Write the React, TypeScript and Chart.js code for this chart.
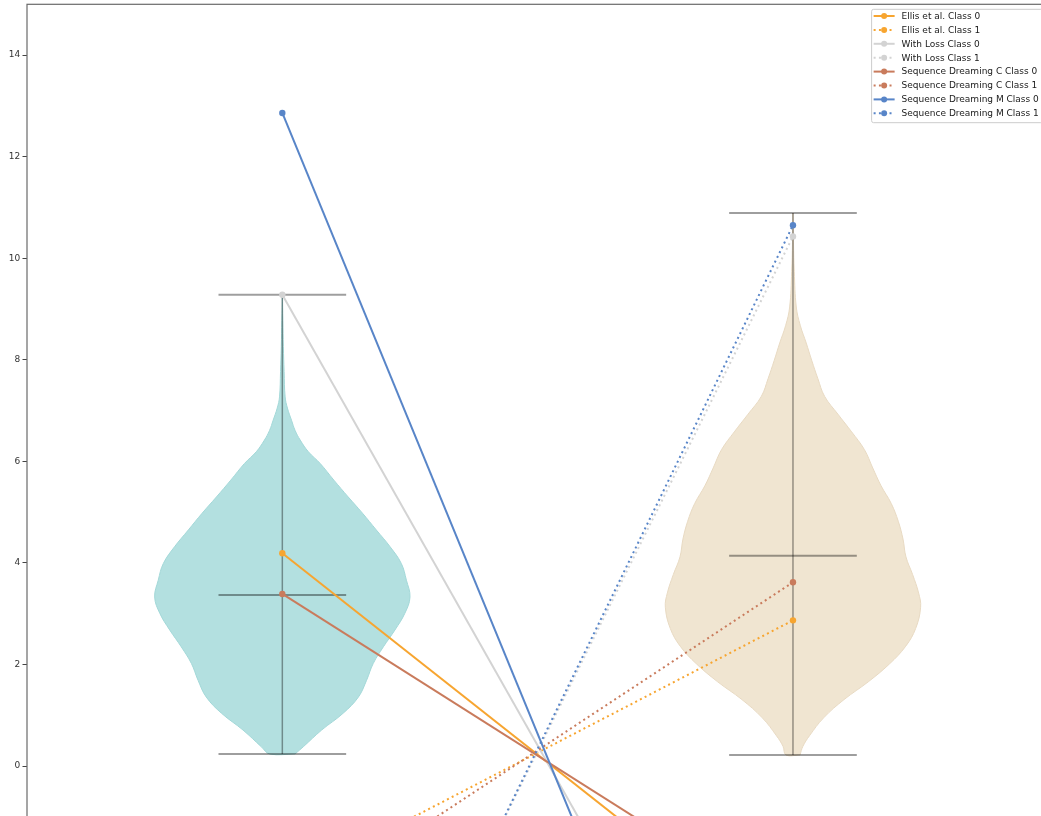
import React, { useEffect, useRef } from 'react';
import { Chart, registerables } from 'chart.js';

Chart.register(...registerables);

// ---------------- data ----------------
const violinPositions = [1, 2];

// left violin (Class 0 distribution): y values and relative density (1 = widest)
const violinAY = [0.24, 0.38, 0.71, 1.04, 1.36, 1.69, 2.02, 2.35, 2.68, 3.01, 3.33, 3.66, 3.99, 4.32, 4.65, 4.98, 5.3, 5.63, 5.96, 6.19, 6.42, 6.61, 6.81, 7.05, 7.27, 7.77, 8.26, 8.77, 9.28];
const violinADensity = [0.1, 0.164, 0.308, 0.476, 0.596, 0.66, 0.712, 0.792, 0.882, 0.96, 1.0, 0.972, 0.932, 0.844, 0.736, 0.628, 0.516, 0.404, 0.296, 0.204, 0.14, 0.1, 0.072, 0.04, 0.022, 0.014, 0.008, 0.004, 0.0];

// right violin (Class 1 distribution)
const violinBY = [0.22, 0.39, 0.6, 0.95, 1.31, 1.66, 2.01, 2.36, 2.71, 3.13, 3.41, 3.77, 4.12, 4.47, 4.82, 5.17, 5.52, 5.87, 6.23, 6.58, 6.93, 7.28, 7.63, 7.98, 8.33, 8.68, 9.04, 9.74, 10.3, 10.89];
const violinBDensity = [0.055, 0.078, 0.13, 0.24, 0.4, 0.59, 0.755, 0.883, 0.961, 1.0, 0.984, 0.9375, 0.885, 0.862, 0.825, 0.77, 0.69, 0.625, 0.56, 0.46, 0.352, 0.248, 0.195, 0.148, 0.104, 0.057, 0.026, 0.01, 0.004, 0.0];

const violinMins = [0.24, 0.22];
const violinMaxs = [9.28, 10.89];
const violinMeans = [3.37, 4.14];

const methodNames = ['Ellis et al.', 'With Loss', 'Sequence Dreaming C', 'Sequence Dreaming M'];
// Class 0 lines: value at x=1 and where the line heads at x=2
const class0AtLeft = [4.19, 9.28, 3.39, 12.86];
const class0AtRight = [-3.74, -8.47, -2.98, -11.59];
// Class 1 lines: where the line comes from at x=1 and value at x=2
const class1AtLeft = [-2.34, -9.84, -3.0, -9.97];
const class1AtRight = [2.87, 10.43, 3.62, 10.65];

const yTicks = [0, 2, 4, 6, 8, 10, 12, 14];

// ---------------- styles ----------------
const methodColors = ['#f7a530', '#d3d3d3', '#c97b5c', '#5885c8'];
const violinFills = ['#b3e0e0', '#f0e5d1'];
const violinEdges = ['#a3d8d8', '#e8dac3'];
const statColor = 'rgba(0,0,0,0.38)';
const VIOLIN_HALF = 0.25;
const STAT_HALF = 0.125;
const FONT = '"DejaVu Sans", "Liberation Sans", sans-serif';

const CW = 1100;
const CH = 880;

function outline(pos: number, ys: number[], dens: number[]) {
  const right = ys.map((y, i) => ({ x: pos + dens[i] * VIOLIN_HALF, y }));
  const left = ys.map((y, i) => ({ x: pos - dens[i] * VIOLIN_HALF, y })).reverse();
  return [...right, ...left, right[0]];
}

const framePlugin = {
  id: 'frameAndLegend',
  afterDraw(chart: any) {
    const ctx = chart.ctx;
    const a = chart.chartArea;
    ctx.save();
    ctx.strokeStyle = '#6a6a6a';
    ctx.lineWidth = 1.2;
    ctx.strokeRect(a.left, a.top, a.right - a.left, a.bottom - a.top);

    const items = chart.data.datasets.filter((d: any) => d.isMethod);
    ctx.font = '9px ' + FONT;
    const maxW = Math.max(...items.map((d: any) => ctx.measureText(d.label).width));
    const right = a.right - 5.5;
    const textX = right - 4 - maxW;
    const hEnd = textX - 7;
    const hStart = hEnd - 21;
    const left = hStart - 2;
    const top = a.top + 5;
    const rowH = 13.9;
    const firstY = top + 6.7;
    const bottom = firstY + rowH * (items.length - 1) + 9.4;
    ctx.beginPath();
    if (ctx.roundRect) ctx.roundRect(left, top, right - left, bottom - top, 2);
    else ctx.rect(left, top, right - left, bottom - top);
    ctx.fillStyle = 'rgba(255,255,255,0.85)';
    ctx.fill();
    ctx.strokeStyle = '#cccccc';
    ctx.lineWidth = 1;
    ctx.stroke();

    items.forEach((d: any, i: number) => {
      const y = firstY + i * rowH;
      ctx.save();
      ctx.strokeStyle = d.borderColor;
      ctx.lineWidth = 2;
      ctx.setLineDash(d.borderDash || []);
      ctx.beginPath();
      ctx.moveTo(hStart, y);
      ctx.lineTo(hEnd, y);
      ctx.stroke();
      ctx.restore();
      ctx.beginPath();
      ctx.fillStyle = d.borderColor;
      ctx.arc((hStart + hEnd) / 2, y, 3, 0, Math.PI * 2);
      ctx.fill();
      ctx.fillStyle = '#1a1a1a';
      ctx.textAlign = 'left';
      ctx.textBaseline = 'middle';
      ctx.fillText(d.label, textX, y + 0.5);
    });
    ctx.restore();
  },
};

export default function App() {
  const ref = useRef<HTMLCanvasElement | null>(null);

  useEffect(() => {
    if (!ref.current) return;
    const datasets: any[] = [];

    // violin bodies
    [ [violinAY, violinADensity], [violinBY, violinBDensity] ].forEach(([ys, dens], k) => {
      datasets.push({
        label: 'violin' + k,
        data: outline(violinPositions[k], ys as number[], dens as number[]),
        borderColor: violinEdges[k],
        backgroundColor: violinFills[k],
        borderWidth: 1,
        fill: 'shape',
        pointRadius: 0,
        tension: 0.4,
        order: 20,
      });
    });

    // violin statistics lines
    violinPositions.forEach((p, k) => {
      datasets.push({
        label: 'bar' + k,
        data: [{ x: p, y: violinMins[k] }, { x: p, y: violinMaxs[k] }],
        borderColor: statColor,
        borderWidth: 1.5,
        pointRadius: 0,
        fill: false,
        order: 10,
      });
      [violinMins[k], violinMaxs[k], violinMeans[k]].forEach((v, j) => {
        datasets.push({
          label: 'stat' + k + '_' + j,
          data: [{ x: p - STAT_HALF, y: v }, { x: p + STAT_HALF, y: v }],
          borderColor: statColor,
          borderWidth: 2,
          pointRadius: 0,
          fill: false,
          order: 10,
        });
      });
    });

    // method lines
    let order = 9;
    methodNames.forEach((name, m) => {
      datasets.push({
        label: name + ' Class 0',
        isMethod: true,
        data: [{ x: violinPositions[0], y: class0AtLeft[m] }, { x: violinPositions[1], y: class0AtRight[m] }],
        borderColor: methodColors[m],
        backgroundColor: methodColors[m],
        pointBackgroundColor: methodColors[m],
        pointBorderWidth: 0,
        pointRadius: 3.2,
        borderWidth: 2,
        fill: false,
        order: order--,
      });
      datasets.push({
        label: name + ' Class 1',
        isMethod: true,
        data: [{ x: violinPositions[0], y: class1AtLeft[m] }, { x: violinPositions[1], y: class1AtRight[m] }],
        borderColor: methodColors[m],
        backgroundColor: methodColors[m],
        pointBackgroundColor: methodColors[m],
        pointBorderWidth: 0,
        pointRadius: 3.2,
        borderWidth: 2,
        borderDash: [2, 3.3],
        fill: false,
        order: order--,
      });
    });

    const chart = new Chart(ref.current, {
      type: 'line',
      data: { datasets },
      options: {
        responsive: false,
        animation: false,
        devicePixelRatio: 1,
        layout: { padding: { left: 0, top: 4.3, right: CW - 1048.3, bottom: CH - 816.9 } },
        plugins: { legend: { display: false }, tooltip: { enabled: false } },
        elements: { line: { borderCapStyle: 'butt' } },
        scales: {
          x: { type: 'linear', min: 0.5, max: 2.5, display: false },
          y: {
            type: 'linear',
            min: -1,
            max: 15,
            afterBuildTicks: (s: any) => {
              s.ticks = yTicks.map((v) => ({ value: v }));
            },
            afterFit: (s: any) => {
              s.width = 27;
              s.paddingTop = 0;
              s.paddingBottom = 0;
            },
            grid: { display: true, drawOnChartArea: false, drawTicks: true, tickLength: 4.5, color: '#444', lineWidth: 1 },
            border: { display: false },
            ticks: { padding: 2.3, color: '#333', font: { family: FONT, size: 9 } },
          },
        },
      } as any,
      plugins: [framePlugin],
    });
    return () => chart.destroy();
  }, []);

  return (
    <div style={{ position: 'fixed', left: 0, top: 0, width: 1041, height: 816, overflow: 'hidden', background: '#fff' }}>
      <canvas ref={ref} width={CW} height={CH} style={{ display: 'block' }} />
    </div>
  );
}
